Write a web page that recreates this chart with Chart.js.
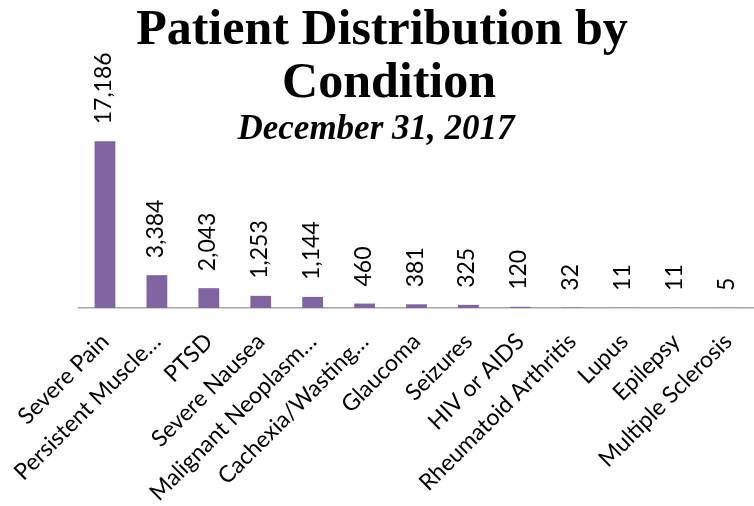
<!DOCTYPE html>
<html lang="en">
<head>
    <meta charset="UTF-8">
    <title>Patient Distribution by Condition</title>
    <script src="https://cdn.jsdelivr.net/npm/chart.js"></script>
    <style>
        html, body { margin: 0; padding: 0; background: #fff; }
        #wrap { width: 754px; height: 506px; }
    </style>
</head>
<body>
    <div id="wrap"><canvas id="patientChart" width="754" height="506"></canvas></div>
    <script>
        // data
        const conditions = ['Severe Pain', 'Persistent Muscle…', 'PTSD', 'Severe Nausea', 'Malignant Neoplasm…',
            'Cachexia/Wasting…', 'Glaucoma', 'Seizures', 'HIV or AIDS', 'Rheumatoid Arthritis', 'Lupus',
            'Epilepsy', 'Multiple Sclerosis'];
        const patients = [17186, 3384, 2043, 1253, 1144, 460, 381, 325, 120, 32, 11, 11, 5];
        const titleLines = ['Patient Distribution by', 'Condition'];
        const subtitleText = 'December 31, 2017';

        const labelFont = 'Lato, "Open Sans", sans-serif';

        // value labels, rotated, above each bar
        const valueLabels = {
            id: 'valueLabels',
            afterDatasetsDraw(chart) {
                const ctx = chart.ctx;
                const meta = chart.getDatasetMeta(0);
                ctx.save();
                ctx.fillStyle = '#000';
                ctx.font = '23px ' + labelFont;
                ctx.textAlign = 'left';
                ctx.textBaseline = 'alphabetic';
                meta.data.forEach((bar, i) => {
                    ctx.save();
                    ctx.translate(bar.x + 6, bar.y - 17);
                    ctx.rotate(-Math.PI / 2);
                    ctx.fillText(patients[i].toLocaleString('en-US'), 0, 0);
                    ctx.restore();
                });
                ctx.restore();
            }
        };

        // Excel style title sits over the plot area
        const overTitle = {
            id: 'overTitle',
            afterDraw(chart) {
                const ctx = chart.ctx;
                ctx.save();
                ctx.fillStyle = '#000';
                ctx.textAlign = 'center';
                ctx.textBaseline = 'alphabetic';
                ctx.font = 'bold 50px "Liberation Serif", serif';
                ctx.fillText(titleLines[0], 382, 44);
                ctx.fillText(titleLines[1], 389, 97);
                ctx.font = 'italic bold 35px "Liberation Serif", serif';
                ctx.fillText(subtitleText, 376, 139);
                ctx.restore();
            }
        };

        const ctx = document.getElementById('patientChart').getContext('2d');
        const patientChart = new Chart(ctx, {
            type: 'bar',
            data: {
                labels: conditions,
                datasets: [{
                    label: 'Patients',
                    data: patients,
                    backgroundColor: '#8064a2',
                    barPercentage: 0.4,
                    categoryPercentage: 1
                }]
            },
            options: {
                responsive: false,
                animation: false,
                layout: { padding: { top: 114, left: 79, right: 0, bottom: 0 } },
                plugins: {
                    legend: { display: false },
                    tooltip: { enabled: false }
                },
                scales: {
                    x: {
                        grid: { display: false },
                        border: { display: true, color: '#a6a6a6', width: 1.5 },
                        ticks: {
                            color: '#000',
                            font: { family: labelFont, size: 23 },
                            minRotation: 45,
                            maxRotation: 45,
                            autoSkip: false,
                            padding: 12
                        },
                        afterFit(s) {
                            s.height = 198;
                            s.paddingLeft = 0;
                            s.paddingRight = 0;
                        }
                    },
                    y: {
                        display: false,
                        min: 0,
                        max: 20000
                    }
                }
            },
            plugins: [valueLabels, overTitle]
        });
    </script>
</body>
</html>
